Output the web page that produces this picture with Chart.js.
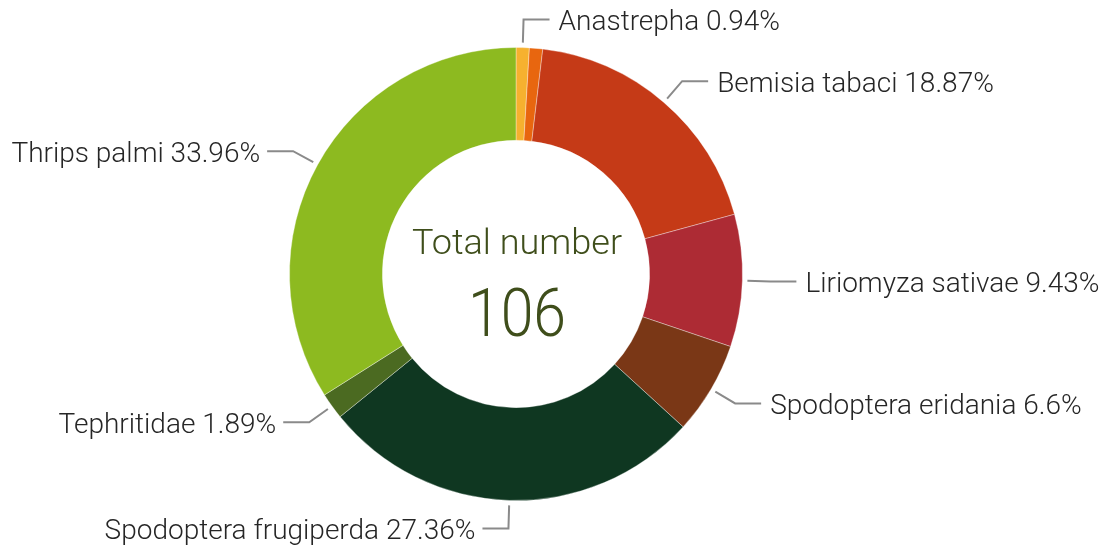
<!DOCTYPE html>
<html>
<head>
<meta charset="utf-8">
<script src="https://cdn.jsdelivr.net/npm/chart.js@4"></script>
<style>
  html, body { margin: 0; padding: 0; background: #fff; }
  #wrap { width: 1109px; height: 548px; }
</style>
</head>
<body>
<div id="wrap"><canvas id="myChart" width="1109" height="548"></canvas></div>
<script>
// counts per species, clockwise from 12 o'clock
const species = ['Anastrepha', '', 'Bemisia tabaci', 'Liriomyza sativae', 'Spodoptera eridania',
                 'Spodoptera frugiperda', 'Tephritidae', 'Thrips palmi'];
const counts = [1, 1, 20, 10, 7, 29, 2, 36];
const percentText = ['0.94%', '', '18.87%', '9.43%', '6.6%', '27.36%', '1.89%', '33.96%'];
const sliceColors = ['#f6b12f', '#e8660f', '#c53a17', '#ad2b34', '#7a3716',
                     '#0f3721', '#4b6a21', '#8dba20'];
const centerTitle = 'Total number';
const totalCount = 106;

const FONT = 'Roboto, "DejaVu Sans", sans-serif';

function drawText(ctx, str, x, y, size, weight, color, align, sx) {
    ctx.save();
    ctx.font = weight + ' ' + size + 'px ' + FONT;
    ctx.fillStyle = color;
    const w = ctx.measureText(str).width * sx;
    let left = x;
    if (align === 'right') left = x - w;
    if (align === 'center') left = x - w / 2;
    ctx.translate(left, y);
    ctx.scale(sx, 1);
    ctx.textAlign = 'left';
    ctx.textBaseline = 'alphabetic';
    ctx.fillText(str, 0, 0);
    ctx.restore();
}

const labelPlugin = {
    id: 'leaderLabels',
    afterDatasetsDraw(chart) {
        const ctx = chart.ctx;
        const meta = chart.getDatasetMeta(0);
        meta.data.forEach((arc, i) => {
            if (!species[i]) return;
            const p = arc.getProps(['x', 'y', 'startAngle', 'endAngle', 'outerRadius'], true);
            const mid = (p.startAngle + p.endAngle) / 2;
            const c = Math.cos(mid), s = Math.sin(mid);
            const x0 = p.x + c * (p.outerRadius + 5), y0 = p.y + s * (p.outerRadius + 5);
            const x1 = p.x + c * (p.outerRadius + 28), y1 = p.y + s * (p.outerRadius + 28);
            const right = c >= 0;
            const x2 = x1 + (right ? 26 : -26);
            ctx.save();
            ctx.strokeStyle = '#8a8a8a';
            ctx.lineWidth = 2;
            ctx.beginPath();
            ctx.moveTo(x0, y0);
            ctx.lineTo(x1, y1);
            ctx.lineTo(x2, y1);
            ctx.stroke();
            ctx.restore();
            const txt = species[i] + ' ' + percentText[i];
            drawText(ctx, txt, x2 + (right ? 9 : -7), y1 + 10.5, 28, 300, '#262626', right ? 'left' : 'right', 1.0);
        });
        const a = meta.data[0];
        drawText(ctx, centerTitle, a.x + 1, a.y - 20, 35, 300, '#3f4e1b', 'center', 1.03);
        drawText(ctx, String(totalCount), a.x + 1, a.y + 62, 67, 300, '#3f4e1b', 'center', 0.88);
    }
};

const ctx = document.getElementById('myChart').getContext('2d');
const myChart = new Chart(ctx, {
    type: 'doughnut',
    data: {
        labels: species,
        datasets: [{
            data: counts,
            backgroundColor: sliceColors,
            borderColor: 'rgba(255,255,255,0.35)',
            borderWidth: 1
        }]
    },
    options: {
        responsive: false,
        animation: false,
        cutout: '59%',
        layout: { padding: { left: 289, right: 366, top: 47, bottom: 47 } },
        plugins: {
            legend: { display: false },
            tooltip: { enabled: false }
        }
    },
    plugins: [labelPlugin]
});
</script>
</body>
</html>
